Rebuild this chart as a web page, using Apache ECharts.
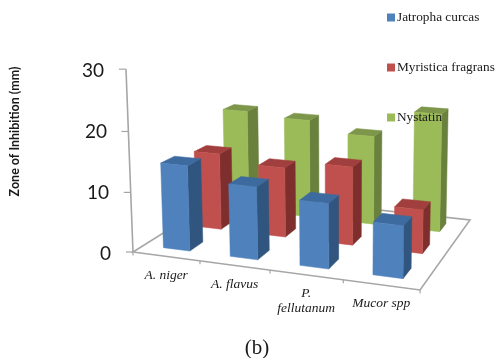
<!DOCTYPE html>
<html>
<head>
<meta charset="utf-8">
<style>html,body{margin:0;padding:0;background:#fff}#c{width:496px;height:358px}</style>
<script src="https://cdn.jsdelivr.net/npm/echarts@6/dist/echarts.min.js"></script>
</head>
<body>
<div id="c"></div>
<script>
const categories = ['A. niger', 'A. flavus', 'P.\nfellutanum', 'Mucor spp'];
const seriesNames = ['Jatropha curcas', 'Myristica fragrans', 'Nystatin'];
const jatropha = [14.3, 12.0, 10.6, 8.4];
const myristica = [13.4, 12.1, 13.4, 7.4];
const nystatin = [18.5, 17.8, 15.9, 20.8];
const yTicks = [0, 10, 20, 30];

const seriesValues = [jatropha, myristica, nystatin];
const faceColors = [
  {front: '#4f81bd', side: '#30557f', top: '#3d6a9f'},
  {front: '#c0504d', side: '#7e2f2d', top: '#a03f3d'},
  {front: '#9bbb59', side: '#6a803d', top: '#7d964a'}
];
const frameColor = '#a6a6a6';
const labelPad = {0: 0, 10: 2, 20: 4, 30: 7};

// Perspective camera: u = category position, v = depth 0..1, h = axis value
function project(u, v, h) {
  const w = 1 - 0.0217 * u + 0.1966 * v - 0.00109 * h;
  return [
    (62.65 * u + 138 * v - 0.3706 * h + 133) / w,
    (3.2 * u - 20.64 * v - 6.17 * h + 252) / w
  ];
}
const BAR_LO = 0.3, BAR_HI = 0.7;

function barItem(row) {
  return function (params, api) {
    const k = api.value(0);
    const unit = api.size([0, 1])[1];
    const base = api.coord([k, 0]);
    const top = api.coord([k, api.value(1)]);
    const h = (base[1] - top[1]) / unit;
    const u0 = k + BAR_LO, u1 = k + BAR_HI;
    const v0 = (row + BAR_LO) / 3, v1 = (row + BAR_HI) / 3;
    const c = faceColors[row];
    const poly = (pts, fill) => ({
      type: 'polygon',
      shape: {points: pts},
      style: {fill: fill, stroke: fill, lineWidth: 0.5}
    });
    return {
      type: 'group',
      children: [
        poly([project(u1, v0, 0), project(u1, v1, 0), project(u1, v1, h), project(u1, v0, h)], c.side),
        poly([project(u0, v0, h), project(u1, v0, h), project(u1, v1, h), project(u0, v1, h)], c.top),
        poly([project(u0, v0, 0), project(u1, v0, 0), project(u1, v0, h), project(u0, v0, h)], c.front)
      ]
    };
  };
}

function frameItem(params, api) {
  const n = categories.length;
  const line = (a, b, lw) => ({
    type: 'line',
    shape: {x1: a[0], y1: a[1], x2: b[0], y2: b[1]},
    style: {stroke: frameColor, lineWidth: lw || 1.6}
  });
  const children = [{
    type: 'polygon',
    shape: {points: [project(0, 0, 0), project(n, 0, 0), project(n, 1, 0), project(0, 1, 0)]},
    style: {fill: '#ffffff', stroke: frameColor, lineWidth: 1.6}
  }];
  const maxTick = yTicks[yTicks.length - 1];
  children.push(line(project(0, 0, 0), project(0, 0, maxTick)));
  yTicks.forEach(t => {
    const p = project(0, 0, t);
    children.push(line([p[0] - 7, p[1]], p, 1.2));
  });
  for (let i = 0; i <= n; i++) {
    const p = project(i, 0, 0);
    children.push(line(p, [p[0], p[1] + 3.5], 1.2));
  }
  categories.forEach((name, i) => {
    const p = project(i + 0.5, 0, 0);
    children.push({
      type: 'text',
      style: {
        text: name, x: p[0], y: p[1] + 11.5,
        align: 'center', verticalAlign: 'top',
        fontFamily: '"Liberation Serif"', fontStyle: 'italic', fontSize: 13.5,
        lineHeight: 15, fill: '#1a1a1a'
      }
    });
  });
  return {type: 'group', children};
}

const chart = echarts.init(document.getElementById('c'), null, {renderer: 'canvas'});
chart.setOption({
  animation: false,
  backgroundColor: '#ffffff',
  title: {
    text: '(b)', left: 252, top: 333, textAlign: 'center',
    textStyle: {fontFamily: '"Liberation Serif"', fontWeight: 'normal', fontSize: 21, color: '#1a1a1a'}
  },
  grid: {left: 118, top: 71, width: 300, height: 183, containLabel: false},
  xAxis: {type: 'category', data: categories, show: false},
  yAxis: {
    type: 'value', min: 0, max: 30, interval: 10,
    axisLine: {show: false}, axisTick: {show: false}, splitLine: {show: false},
    axisLabel: {
      margin: 7, color: '#1a1a1a', fontFamily: 'Lato', fontSize: 19,
      formatter: v => '{p' + v + '|' + v + '}',
      rich: Object.fromEntries(yTicks.map(t => ['p' + t, {
        fontFamily: 'Lato', fontSize: 19, color: '#1a1a1a', padding: [0, labelPad[t], 0, 0]
      }]))
    }
  },
  legend: {
    data: seriesNames, orient: 'vertical', left: 387, top: 11, padding: 0,
    icon: 'rect', itemWidth: 8, itemHeight: 8, itemGap: 37, z: 20,
    selectedMode: false,
    textStyle: {fontFamily: '"Liberation Serif"', fontSize: 13.3, color: '#1a1a1a', padding: [0, 0, 0, -3]}
  },
  graphic: [{
    type: 'text', x: 15, y: 131.5, rotation: Math.PI / 2,
    style: {
      text: 'Zone of Inhibition (mm)', align: 'center', verticalAlign: 'middle',
      fontFamily: 'Lato', fontWeight: 'bold', fontSize: 12.5, fill: '#1a1a1a'
    }
  }],
  series: [
    {type: 'custom', name: 'frame', z: 1, silent: true, renderItem: frameItem, data: [[0, 0]], encode: {x: 0, y: 1}}
  ].concat(seriesNames.map((name, r) => ({
    type: 'custom', name, z: 5 - r,
    itemStyle: {color: faceColors[r].front},
    renderItem: barItem(r),
    data: seriesValues[r].map((v, i) => [i, v]),
    encode: {x: 0, y: 1}
  })))
});
</script>
</body>
</html>
